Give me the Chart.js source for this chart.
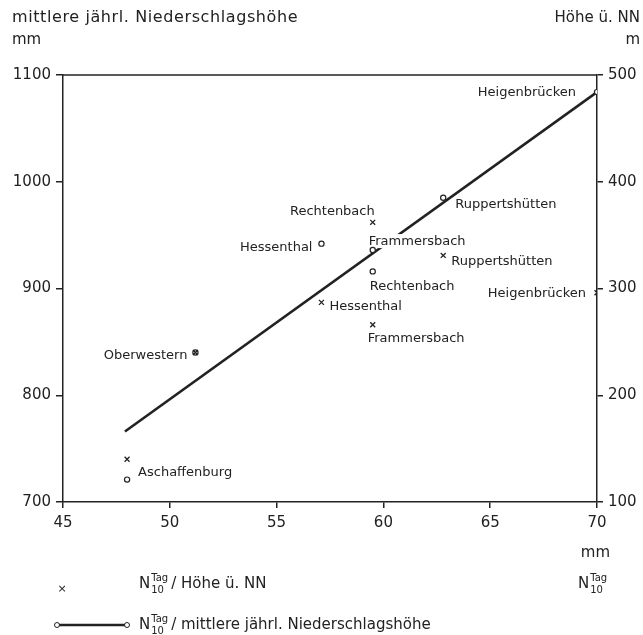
<!DOCTYPE html>
<html>
<head>
<meta charset="utf-8">
<script src="https://cdn.jsdelivr.net/npm/chart.js@4"></script>
<style>
  html, body { margin: 0; padding: 0; background: #fff; }
  #wrap { width: 643px; height: 635px; }
</style>
</head>
<body>
<div id="wrap"><canvas id="myChart"></canvas></div>
<script>
// stations and values
const stations = ["Aschaffenburg", "Oberwestern", "Hessenthal", "Rechtenbach", "Frammersbach", "Ruppertshütten", "Heigenbrücken"];
const n10Tag = [48.0, 51.2, 57.1, 59.5, 59.5, 62.8, 70.0];           // mm
const niederschlag = [721, 840, 942, 916, 936, 985, 1084];           // mm (left axis)
const hoehe = [140, 240, 287, 362, 266, 331, 296];                   // m ü. NN (right axis)
const regressionX = [47.9, 70.0];
const regressionY = [766, 1084];
const xRange = [45, 70];
const leftRange = [700, 1100];
const rightRange = [100, 500];

// label placement next to each marker: [dx, dy, align] in px, null = no label
const circleLabelPos = [[11, -8, "left"], [-8, 2, "right"], [-9, 3, "right"], [-3, 14, "left"], [-4, -9, "left"], [12, 6, "left"], [-21, 0, "right"]];
const crossLabelPos = [null, null, [8, 3, "left"], [2, -12, "right"], [-5, 13, "left"], [8, 5, "left"], [-11, 0, "right"]];

const ink = "#222";
const FONT = "DejaVu Sans";

function pts(ys) {
  return n10Tag.map((x, i) => ({ x: x, y: ys[i] }));
}

function drawN10(ctx, x, y) {
  ctx.textAlign = "left";
  ctx.font = "15px " + FONT;
  ctx.fillText("N", x, y);
  const w = ctx.measureText("N").width;
  ctx.font = "10px " + FONT;
  ctx.fillText("Tag", x + w + 1, y - 6);
  ctx.fillText("10", x + w + 1, y + 6);
  return x + w + 1 + ctx.measureText("Tag").width + 3;
}

const pointLabels = {
  id: "pointLabels",
  afterDatasetDraw(chart, args) {
    if (args.index !== 2) return;
    const ctx = chart.ctx;
    const xs = chart.scales.x, yl = chart.scales.y, yr = chart.scales.y2;
    ctx.save();
    ctx.font = "13px " + FONT;
    ctx.textBaseline = "middle";
    const put = (px, py, pos, text) => {
      if (!pos) return;
      const tx = px + pos[0], ty = py + pos[1];
      const w = ctx.measureText(text).width;
      const left = pos[2] === "left" ? tx : tx - w;
      ctx.fillStyle = "#fff";
      ctx.fillRect(left - 1, ty - 7, w + 2, 14);
      ctx.fillStyle = ink;
      ctx.textAlign = pos[2];
      ctx.fillText(text, tx, ty + 1);
    };
    stations.forEach((s, i) => {
      put(xs.getPixelForValue(n10Tag[i]), yl.getPixelForValue(niederschlag[i]), circleLabelPos[i], s);
      put(xs.getPixelForValue(n10Tag[i]), yr.getPixelForValue(hoehe[i]), crossLabelPos[i], s);
    });
    ctx.restore();
  }
};

const frameAndText = {
  id: "frameAndText",
  afterDraw(chart) {
    const ctx = chart.ctx;
    const a = chart.chartArea;
    ctx.save();
    ctx.strokeStyle = ink;
    ctx.lineWidth = 1.5;
    ctx.beginPath();
    ctx.moveTo(a.left, a.top);
    ctx.lineTo(a.right, a.top);
    ctx.stroke();

    ctx.fillStyle = ink;
    ctx.textBaseline = "middle";
    ctx.font = "16px " + FONT;
    ctx.textAlign = "left";
    ctx.letterSpacing = "0.6px";
    ctx.fillText("mittlere jährl. Niederschlagshöhe", 12, 18);
    ctx.letterSpacing = "0px";
    ctx.font = "15px " + FONT;
    ctx.fillText("mm", 12, 40);
    ctx.textAlign = "right";
    ctx.fillText("Höhe ü. NN", 640, 18);
    ctx.fillText("m", 640, 40);
    ctx.fillText("mm", 610, 553);
    drawN10(ctx, 578, 584);

    // legend
    ctx.font = "11px " + FONT;
    ctx.textAlign = "center";
    ctx.fillText("×", 62, 589);
    let x = drawN10(ctx, 139, 584);
    ctx.font = "15px " + FONT;
    ctx.textAlign = "left";
    ctx.fillText("/ Höhe ü. NN", x, 584);

    ctx.lineWidth = 2.5;
    ctx.beginPath();
    ctx.moveTo(59, 625);
    ctx.lineTo(125, 625);
    ctx.stroke();
    ctx.lineWidth = 1;
    ctx.fillStyle = "#fff";
    [57, 127].forEach(cx => {
      ctx.beginPath();
      ctx.arc(cx, 625, 2.5, 0, Math.PI * 2);
      ctx.fill();
      ctx.stroke();
    });
    ctx.fillStyle = ink;
    x = drawN10(ctx, 139, 625);
    ctx.font = "15px " + FONT;
    ctx.fillText("/ mittlere jährl. Niederschlagshöhe", x, 625);
    ctx.restore();
  }
};

const plainTick = (v) => String(v);

const ctx = document.getElementById("myChart").getContext("2d");
const myChart = new Chart(ctx, {
  type: "scatter",
  data: {
    datasets: [
      {
        label: "N10 Tag / Höhe ü. NN",
        data: pts(hoehe),
        yAxisID: "y2",
        pointStyle: "crossRot",
        pointRadius: 3.5,
        borderColor: ink,
        borderWidth: 1.3,
        order: 1,
      },
      {
        label: "N10 Tag / mittlere jährl. Niederschlagshöhe",
        data: pts(niederschlag),
        yAxisID: "y",
        pointStyle: "circle",
        pointRadius: 2.6,
        backgroundColor: "#fff",
        borderColor: ink,
        borderWidth: 1.2,
        order: 1,
      },
      {
        type: "line",
        label: "Regression",
        data: regressionX.map((x, i) => ({ x: x, y: regressionY[i] })),
        yAxisID: "y",
        borderColor: ink,
        borderWidth: 2.6,
        pointRadius: 0,
        fill: false,
        order: 3,
      },
    ],
  },
  options: {
    responsive: true,
    maintainAspectRatio: false,
    animation: false,
    devicePixelRatio: 1,
    layout: { padding: { top: 75, left: 0, right: 0, bottom: 0 } },
    plugins: { legend: { display: false }, tooltip: { enabled: false } },
    scales: {
      x: {
        type: "linear",
        position: "bottom",
        min: xRange[0],
        max: xRange[1],
        ticks: { stepSize: 5, color: ink, font: { family: FONT, size: 15 }, padding: 6, callback: plainTick },
        grid: { drawOnChartArea: false, tickLength: 6, color: ink, lineWidth: 1.5 },
        border: { color: ink, width: 1.5 },
        afterFit: (s) => { s.height = 133; },
      },
      y: {
        position: "left",
        min: leftRange[0],
        max: leftRange[1],
        ticks: { stepSize: 100, color: ink, font: { family: FONT, size: 15 }, padding: 5, callback: plainTick },
        grid: { drawOnChartArea: false, tickLength: 7, color: ink, lineWidth: 1.5 },
        border: { color: ink, width: 1.5 },
        afterFit: (s) => { s.width = 63; },
      },
      y2: {
        position: "right",
        min: rightRange[0],
        max: rightRange[1],
        ticks: { stepSize: 100, color: ink, font: { family: FONT, size: 15 }, padding: 5, callback: plainTick },
        grid: { drawOnChartArea: false, tickLength: 6, color: ink, lineWidth: 1.5 },
        border: { color: ink, width: 1.5 },
        afterFit: (s) => { s.width = 46; },
      },
    },
  },
  plugins: [pointLabels, frameAndText],
});
</script>
</body>
</html>
